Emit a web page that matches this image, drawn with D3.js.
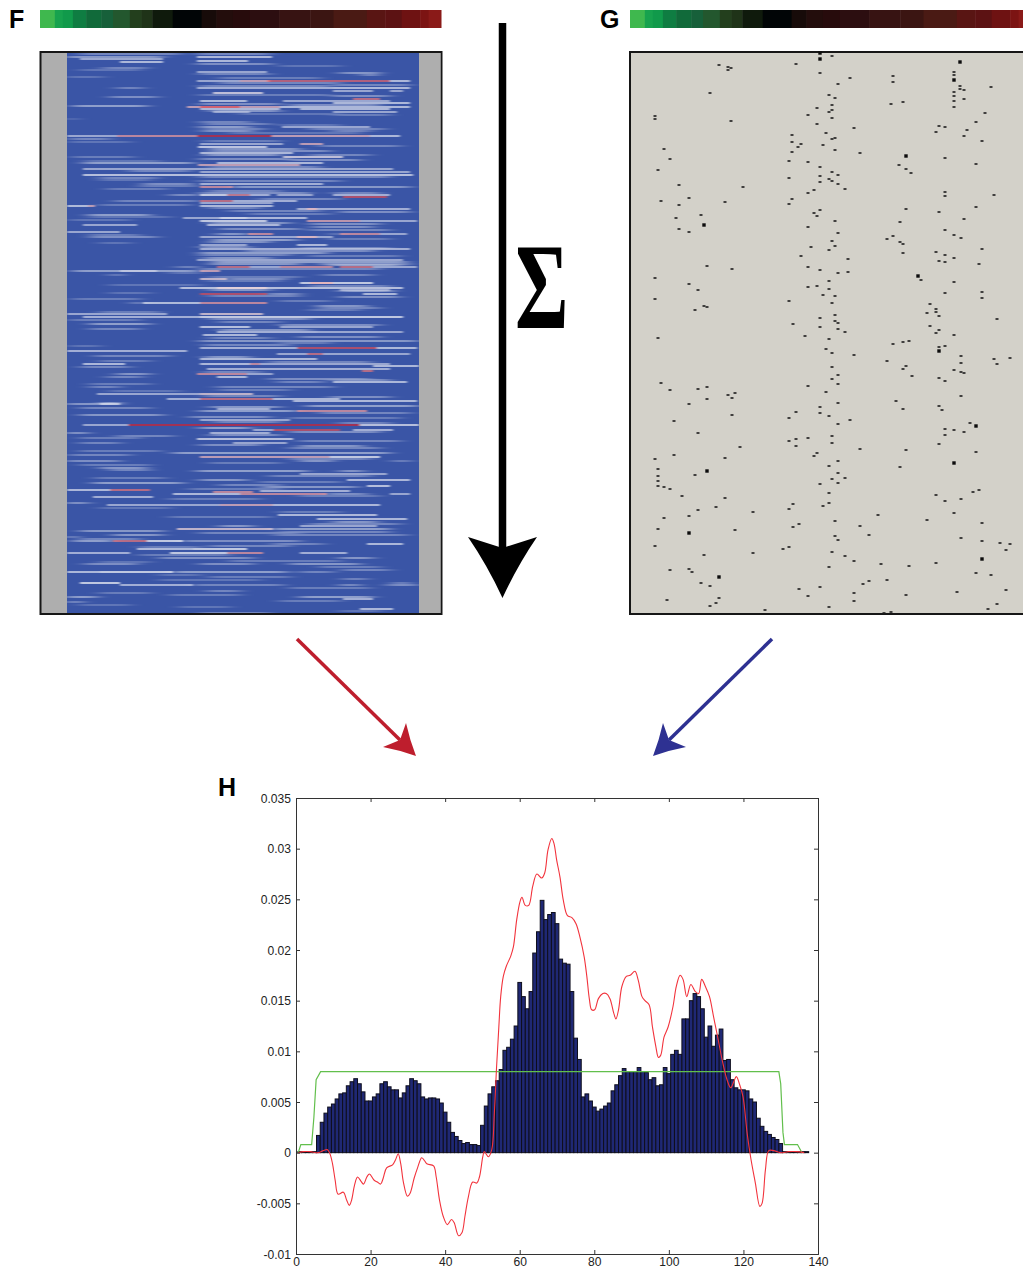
<!DOCTYPE html>
<html>
<head>
<meta charset="utf-8">
<script src="https://cdn.jsdelivr.net/npm/d3@7"></script>
<style>
    html, body { margin: 0; padding: 0; background: #fff; overflow: hidden; }
    .tick text { font-family: "Liberation Sans", sans-serif; font-size: 13px; fill: #222; }
    .tick line { stroke: #333; }
    .panel-label { font-family: "Liberation Sans", Arial, sans-serif; font-weight: bold; font-size: 25px; fill: #000; }
</style>
</head>
<body>
<svg id="fig" width="1023" height="1270"></svg>
<script>
// H: histogram of bins 1..137
var binIndex = d3.range(1, 138);
var binValues = [
    .0001,.0001,.0001,.0001,.0001,.0017,.0030,.0039,.0045,.0048,.0053,.0058,.0059,.0066,.0070,.0073,.0068,.0060,.0051,.0051,
    .0055,.0058,.0068,.0070,.0065,.0062,.0062,.0054,.0059,.0066,.0073,.0071,.0068,.0055,.0053,.0054,.0054,.0053,.0049,.0040,
    .0030,.0020,.0016,.0012,.0009,.0010,.0008,.0008,.0007,.0027,.0046,.0058,.0065,.0071,.0082,.0101,.0104,.0112,.0125,.0168,
    .0154,.0142,.0159,.0197,.0218,.0249,.0230,.0235,.0237,.0226,.0191,.0187,.0186,.0159,.0113,.0092,.0055,.0058,.0051,.0045,
    .0041,.0043,.0046,.0049,.0061,.0067,.0076,.0083,.0080,.0080,.0080,.0084,.0080,.0079,.0072,.0074,.0066,.0067,.0084,.0078,
    .0097,.0101,.0097,.0132,.0132,.0150,.0157,.0154,.0142,.0114,.0125,.0105,.0116,.0122,.0091,.0092,.0072,.0064,.0062,.0062,
    .0061,.0053,.0050,.0034,.0026,.0021,.0018,.0015,.0013,.0009,.0001,.0001,.0001,.0001,.0001,.0001,.0001
];

var redX = [0.6,2,3.8,6,7.3,8.4,9.1,9.8,10.5,11.3,12.7,13.6,14.3,14.9,15.7,16.5,17.4,18.1,19,19.7,20.9,21.8,22.7,23.4,24.3,25.9,26.7,27.4,28.1,28.8,29.9,30.6,31.7,32.6,33.7,34.3,35.1,36.9,37.6,38.5,39.5,40.6,41.7,42.4,43.6,44.5,45.3,46.2,47.4,48.5,49.2,50.1,50.5,51.6,52.5,53.2,53.8,54.4,54.9,55.6,56.4,57.6,58.3,59.2,60.1,60.6,61.5,62.4,63.5,64.6,65.9,66.7,67.6,68.6,69.2,69.9,70.8,71.7,72.8,74,75.1,76.2,77.3,78,78.7,79.3,80.1,81.1,82.3,83.2,84.2,85.2,85.8,86.5,87.4,88.6,89.6,90.9,91.8,92.8,93.6,94.7,95.6,96.5,97.2,97.8,98.7,99.8,101.1,102,103,103.8,104.8,105.9,107.1,108,108.8,109.8,110.9,112,113.1,114.5,115.6,116.6,117.4,118.1,119,119.9,121,122,123.2,124.4,125,125.9,126.8,128.1,129.9,132.1,134.3,136.3];
var redY = [0,.0001,.0001,0,.0002,.0003,-.0001,-.0011,-.0027,-.0041,-.0039,-.0047,-.0052,-.0047,-.0032,-.0024,-.0028,-.0031,-.0024,-.0021,-.0027,-.0029,-.0031,-.0025,-.0015,-.0012,-.0007,-.0001,-.0011,-.0029,-.0043,-.0040,-.0025,-.0015,-.0005,-.0007,-.0011,-.0013,-.0024,-.0047,-.0063,-.0071,-.0066,-.0069,-.0082,-.0079,-.0063,-.0044,-.0029,-.0030,-.0024,-.0004,.0001,-.0004,.0003,.0039,.0085,.0124,.0154,.0174,.0184,.0194,.0203,.0230,.0248,.0252,.0244,.0244,.0263,.0275,.0271,.0276,.0299,.0310,.0305,.0289,.0272,.0249,.0234,.0232,.0226,.0212,.0193,.0174,.0151,.0141,.0141,.0152,.0157,.0157,.0152,.0138,.0132,.0141,.0164,.0174,.0175,.0179,.0170,.0154,.0150,.0146,.0124,.0105,.0094,.0096,.0114,.0124,.0144,.0164,.0175,.0171,.0154,.0166,.0159,.0157,.0171,.0164,.0154,.0134,.0114,.0088,.0072,.0064,.0070,.0075,.0067,.0055,.0019,-.0006,-.0030,-.0053,-.0050,-.0017,.0002,.0002,0,.0001,.0001,0];

var greenX = [0.6,1.3,4.2,4.8,5.4,6.6,129.5,130,130.6,131,134.5,135.7];
var greenY = [0,.0008,.0008,.0035,.0072,.008,.008,.0068,.002,.0008,.0008,0];

var yTickValues = [.035,.03,.025,.02,.015,.01,.005,0,-.005,-.01];
var yTickLabels = ["0.035","0.03","0.025","0.02","0.015","0.01","0.005","0","-0.005","-0.01"];
var xTickValues = [0,20,40,60,80,100,120,140];

// colour key above F and G
var keyEdges = [0,.037,.057,.082,.115,.153,.182,.224,.253,.280,.331,.403,.440,.481,.523,.597,.674,.732,.815,.861,.902,.948,.969,1];
var keyColors = ["#3fb84e","#17a24e","#119a4b","#0f7d42","#116a3a","#17603a","#23572e","#233f1d","#1f3318","#0f1a0c","#010506","#170b09","#230d0c","#270b0c","#2c0e10","#371312","#3b1512","#4a1a14","#591513","#5c1213","#6e1212","#7c1413","#8a1a18"];

// F: expression streaks as [row, from, to, level]
var fStreaks = [
    [2,40,140,.3],[2,157,230,.3],[5,157,232,.6],[5,27,123,.4],[7,40,123,.5],[10,80,123,.6],[9,157,208,.6],[16,63,107,.3],
    [20,157,227,.5],[21,300,340,.4],[23,323,337,.4],[25,27,63,.2],[29,157,200,.5],[29,200,230,.8],[29,227,350,.92],[29,350,370,.6],
    [36,77,103,.3],[36,157,293,.55],[36,293,370,.6],[39,293,333,.5],[39,350,363,.5],[41,173,223,.72],[45,70,117,.35],[47,313,340,.9],
    [49,160,207,.6],[49,243,350,.5],[51,293,370,.6],[54,33,107,.45],[55,147,240,.8],[55,240,370,.6],[55,160,200,.95],[57,160,240,.6],
    [57,260,350,.6],[60,173,210,.5],[60,293,357,.5],[67,27,37,.2],[70,160,210,.3],[75,160,210,.45],[75,242,330,.5],[79,163,213,.4],
    [79,293,330,.3],[84,27,77,.5],[84,77,157,.85],[84,157,232,1],[84,232,330,.8],[84,330,360,.6],[87,30,70,.3],[92,160,243,.5],
    [92,260,283,.8],[95,158,227,.68],[101,160,253,.6],[105,33,93,.25],[105,243,303,.72],[111,43,153,.45],[111,177,283,.6],[113,158,260,.8],
    [117,43,353,.5],[120,160,370,.5],[123,43,373,.65],[126,60,117,.3],[132,103,153,.35],[132,160,283,.55],[135,160,193,.85],[135,193,370,.4],
    [137,67,127,.25],[143,130,158,.35],[143,160,187,.7],[143,187,210,.88],[143,210,230,.55],[143,237,273,.5],[143,293,350,.55],[145,303,347,.95],
    [149,75,158,.3],[149,160,193,.9],[149,193,257,.55],[151,160,233,.5],[154,27,48,.62],[154,48,55,.8],[154,160,233,.6],[157,257,370,.55],
    [157,267,277,.8],[160,300,370,.35],[163,48,110,.45],[166,143,207,.5],[166,180,267,.6],[169,160,227,.7],[169,267,320,.82],[169,320,377,.5],
    [173,43,97,.5],[173,167,240,.6],[175,273,333,.35],[180,27,80,.5],[182,177,207,.4],[182,208,233,.85],[182,293,300,.4],[182,300,340,.85],
    [182,340,367,.5],[185,50,117,.35],[185,160,293,.5],[185,257,277,.8],[188,173,257,.45],[193,160,207,.5],[193,257,287,.6],[197,160,370,.55],
    [199,207,333,.35],[201,160,287,.45],[208,157,363,.5],[210,173,367,.45],[215,137,158,.3],[215,177,210,.9],[215,210,240,.5],[215,240,293,.85],
    [215,300,333,.9],[215,333,377,.5],[219,33,158,.45],[219,80,117,.55],[219,160,180,.8],[223,70,83,.3],[223,283,333,.3],[227,160,187,.75],
    [227,187,247,.35],[231,260,333,.7],[231,270,293,.82],[236,140,363,.65],[236,177,227,.75],[239,300,353,.45],[242,160,227,.95],[242,227,260,.35],
    [242,323,357,.6],[247,33,100,.25],[251,93,103,.4],[251,103,160,.62],[251,160,227,.85],[254,277,327,.4],[262,27,127,.5],[262,160,223,.75],
    [265,43,160,.55],[265,160,363,.7],[272,50,110,.45],[275,160,210,.65],[275,240,333,.5],[280,177,277,.55],[280,277,363,.5],[283,163,217,.6],
    [289,160,377,.4],[296,160,257,.55],[296,257,337,.95],[296,337,377,.6],[299,27,147,.55],[302,237,267,.5],[302,267,283,.9],[302,283,370,.5],
    [307,160,277,.6],[312,43,85,.6],[312,160,210,.6],[312,210,220,.85],[312,220,350,.5],[314,333,379,.6],[317,167,350,.55],[319,322,333,.9],
    [322,157,207,.85],[322,207,233,.5],[322,77,110,.4],[325,177,207,.6],[325,67,102,.3],[330,293,367,.6],[330,238,283,.3],[335,50,80,.3],
    [335,177,293,.3],[342,57,160,.5],[342,160,213,.75],[347,127,160,.55],[347,160,233,.9],[347,233,300,.6],[349,253,377,.6],[351,60,80,.45],
    [352,27,80,.4],[352,60,80,.6],[354,267,377,.45],[357,177,230,.55],[359,160,257,.45],[359,257,327,.85],[363,40,123,.4],[368,160,250,.5],
    [373,43,88,.5],[373,88,320,1],[373,320,379,.65],[376,160,210,.45],[378,233,300,.95],[378,213,233,.5],[378,313,353,.55],[381,170,230,.55],
    [381,27,48,.4],[384,77,133,.3],[387,157,253,.65],[391,193,247,.5],[391,40,80,.3],[394,260,323,.4],[401,133,350,.45],[405,160,290,.8],
    [405,290,340,.7],[409,27,80,.35],[409,260,293,.4],[409,353,370,.3],[416,60,107,.4],[419,157,267,.45],[419,300,323,.4],[422,260,347,.5],
    [428,160,207,.4],[428,307,370,.6],[431,53,143,.45],[434,327,350,.65],[435,223,317,.4],[438,27,70,.6],[438,70,110,.9],[439,220,310,.55],
    [440,173,213,.85],[442,133,200,.6],[442,200,287,.85],[442,287,327,.35],[442,350,370,.5],[445,53,113,.55],[451,27,48,.4],[453,67,180,.5],
    [453,180,233,.8],[453,233,340,.6],[463,238,337,.6],[467,277,367,.6],[470,293,337,.4],[474,180,213,.4],[474,260,337,.5],[477,137,233,.75],
    [477,233,350,.45],[479,40,123,.4],[483,73,123,.4],[483,235,367,.3],[485,27,37,.4],[489,33,73,.45],[489,73,107,.9],[489,107,143,.7],
    [489,143,260,.35],[492,233,283,.3],[492,327,363,.6],[497,97,153,.6],[497,153,207,.7],[501,27,90,.55],[501,130,187,.7],[501,187,223,.85],
    [501,260,307,.55],[506,120,213,.35],[506,300,333,.4],[512,45,97,.35],[512,160,213,.35],[512,250,320,.4],[520,27,60,.6],[520,60,133,.7],
    [520,133,247,.45],[520,260,293,.3],[518,303,350,.3],[527,303,327,.3],[531,40,80,.7],[531,353,370,.3],[533,80,153,.55],[533,153,243,.3],
    [533,300,320,.35],[533,347,377,.35],[539,167,200,.3],[545,27,57,.45],[545,260,333,.45],[547,303,333,.55],[550,27,43,.35],[557,320,353,.6],
    [561,160,230,.3]
];
// the paler rows between them
var fFaint = [
    [12,157,232,.35],[14,240,300,.2],[18,40,100,.2],[22,160,230,.3],[26,180,280,.25],[31,180,300,.3],[33,293,370,.3],[34,160,290,.3],[43,160,290,.25],
    [44,293,350,.35],[52,160,240,.35],[53,250,340,.35],[59,170,240,.4],[62,200,300,.2],[63,293,350,.25],[72,165,230,.3],[73,240,300,.2],[77,165,225,.3],
    [77,270,345,.3],[81,190,320,.2],[89,165,240,.25],[90,30,90,.2],[94,280,360,.3],[97,170,260,.4],[99,170,290,.35],[103,165,240,.4],[103,270,330,.3],
    [107,160,250,.35],[108,250,320,.35],[109,45,120,.2],[115,170,280,.3],[119,90,150,.3],[125,160,350,.3],[128,60,110,.2],[129,160,300,.3],[134,100,157,.25],
    [139,170,240,.3],[141,160,270,.35],[141,293,340,.3],[147,220,300,.3],[153,60,150,.25],[156,170,220,.3],[159,190,280,.3],[162,210,290,.25],[165,50,130,.2],
    [168,30,90,.2],[171,170,250,.4],[172,270,340,.35],[177,180,260,.35],[178,270,350,.3],[183,50,100,.25],[187,290,350,.25],[190,170,230,.4],[191,60,90,.2],
    [195,160,210,.35],[196,260,350,.3],[203,160,250,.3],[204,270,360,.25],[206,165,230,.4],[212,170,260,.4],[212,280,370,.35],[213,290,360,.45],[217,160,340,.3],
    [221,130,160,.2],[225,170,260,.25],[229,170,240,.25],[233,70,160,.2],[234,270,350,.3],[238,170,230,.4],[238,300,350,.5],[241,70,110,.2],[244,170,260,.3],
    [245,300,360,.35],[249,240,290,.25],[256,280,340,.3],[258,270,320,.25],[260,60,120,.25],[267,170,270,.35],[268,30,100,.25],[270,180,240,.3],[273,240,340,.35],
    [277,50,100,.3],[278,180,270,.4],[285,260,340,.35],[286,170,230,.3],[291,240,290,.25],[293,165,250,.3],[294,30,60,.2],[304,55,130,.3],[305,165,210,.4],
    [309,60,110,.25],[310,230,330,.3],[315,40,90,.3],[320,165,220,.3],[327,230,330,.35],[328,290,350,.35],[332,50,110,.25],[338,180,250,.25],[339,70,140,.2],
    [344,165,240,.3],[345,290,350,.35],[355,170,240,.4],[356,40,110,.3],[361,280,370,.3],[365,150,230,.35],[366,250,360,.25],[370,175,240,.3],[371,300,350,.3],
    [380,250,340,.35],[383,170,240,.35],[386,40,100,.25],[389,260,360,.3],[393,160,220,.35],[396,250,340,.3],[399,40,120,.25],[403,30,90,.3],[407,250,330,.3],
    [411,170,240,.25],[413,40,110,.25],[418,70,110,.3],[424,230,330,.3],[426,55,125,.25],[430,220,300,.25],[433,180,240,.3],[437,150,240,.25],[444,260,340,.25],
    [447,130,220,.25],[456,60,130,.2],[460,240,300,.25],[465,130,230,.25],[472,270,360,.3],[480,240,350,.3],[481,160,260,.3],[487,40,100,.3],[494,170,250,.3],
    [495,100,160,.25],[503,100,190,.25],[509,190,300,.25],[510,60,110,.2],[515,280,340,.25],[523,120,160,.2],[525,170,250,.25],[528,120,220,.2],[536,250,330,.25],
    [541,60,110,.25],[543,130,200,.25],[549,240,300,.25],[553,40,90,.2],[555,140,190,.2],[559,300,340,.2]
];

// G: binding events as [position, row]
var gDots = [
    [202,4],[166,12],[89,13],[98,15],[101,16],[98,18],[190,21],[220,26],[263,24],[263,30],[208,32],[324,20],[324,23],[330,34],[330,37],[334,38],
    [361,35],[324,40],[324,44],[324,49],[334,47],[324,55],[80,41],[199,43],[205,46],[261,52],[273,50],[202,53],[187,56],[202,58],[199,60],[178,63],
    [25,64],[25,67],[101,69],[202,66],[187,72],[355,61],[346,70],[309,74],[315,75],[306,80],[337,78],[224,76],[196,81],[334,84],[162,83],[205,86],
    [202,87],[352,89],[162,90],[171,92],[168,95],[193,93],[34,97],[205,98],[162,100],[230,101],[315,106],[40,107],[159,109],[178,110],[346,112],
    [269,113],[190,115],[276,117],[28,118],[202,120],[281,121],[208,123],[190,124],[159,126],[199,127],[202,129],[190,130],[208,132],[49,133],[113,135],
    [215,137],[184,138],[178,141],[315,140],[315,144],[364,143],[59,146],[162,147],
    [31,149],[95,150],[159,152],[49,153],[190,158],[184,161],[187,164],[71,163],[46,166],[49,177],[59,180],[178,175],[205,169],[208,181],[202,189],
    [205,194],[181,195],[199,198],[171,204],[218,207],[276,157],[309,160],[346,155],[334,167],[270,170],[315,178],[324,183],[331,186],[263,184],[257,187],
    [270,190],[273,192],[352,197],[273,201],[306,200],[315,203],[324,206],[309,209],[315,210],[349,212],[77,214],[102,217],[178,215],[190,218],[208,221],
    [218,220],[25,226],[59,232],[68,238],[25,247],[74,254],[77,255],[65,258],[291,228],[324,230],[199,229],[187,234],[178,235],[199,237],[193,243],
    [205,244],[202,251],[159,249],[315,241],[352,240],[352,246],[300,252],[306,257],[306,260],[297,261],[309,264],[367,267],[205,263],[190,266],[205,269],
    [208,271],[163,272],[190,275],[208,277],[215,280],[300,274],[309,278],[306,281],[324,283],[175,284],[28,286],[199,287],
    [263,292],[273,290],[279,289],[309,295],[315,294],[196,297],[202,301],[224,303],[331,304],[331,311],[364,307],[380,306],[367,312],[257,309],[276,314],
    [273,317],[282,324],[202,315],[208,323],[324,318],[331,320],[334,321],[309,326],[315,329],[202,327],[208,332],[178,334],[31,331],[40,338],[68,337],
    [77,335],[105,341],[98,343],[102,346],[77,347],[196,340],[331,344],[59,352],[208,351],[266,349],[273,357],[309,354],[312,358],[190,355],[166,360],
    [190,361],[159,366],[199,364],[102,363],[44,369],[208,372],[220,368],[340,371],[315,377],[324,378],[334,380],[315,383],[68,381],[202,384],[178,386],
    [166,387],[159,389],[202,391],[166,394],[110,395],[309,392],[230,397],[276,398],[346,400],[187,401],[184,404],[44,403],[25,407],[95,406],[208,409],
    [199,414],[270,415],[28,417],[65,423],[28,424],[208,421],[215,426],[202,427],
    [28,429],[28,434],[34,435],[40,437],[208,431],[190,432],[52,444],[95,446],[199,441],[306,443],[315,449],[331,447],[343,440],[349,438],[199,451],
    [193,454],[163,452],[159,457],[86,455],[68,458],[123,460],[248,463],[324,461],[59,464],[34,466],[205,469],[297,468],[352,471],[230,474],[169,472],
    [163,475],[28,477],[105,478],[239,483],[205,484],[208,488],[331,486],[352,489],[370,491],[380,492],[25,494],[159,495],[153,497],[376,498],[202,500],
    [74,503],[123,501],[215,504],[224,509],[251,512],[279,514],[306,511],[199,515],[40,518],[59,517],[62,520],[346,521],[361,523],[257,528],[239,529],
    [233,532],[71,531],[80,534],[169,537],[190,535],[327,540],[376,538],[224,541],[276,543],[178,544],[37,548],[89,546],[86,551],[80,554],[224,549],
    [367,552],[358,557],[199,555],[135,558],[261,560],[254,561]
];
var gBigDots = [[190,1],[190,7],[330,10],[324,28],[276,104],[74,173],[288,224],[309,299],[346,374],[324,411],[77,419],[59,481],[352,507],[89,525]];

var svg = d3.select("#fig");
var defs = svg.append("defs");

function soft_filter(id, dev) {
    defs.append("filter").attr("id", id)
        .attr("filterUnits", "userSpaceOnUse").attr("x", 40).attr("y", 52).attr("width", 401).attr("height", 562)
        .append("feGaussianBlur").attr("stdDeviation", dev);
}
soft_filter("soft", "1.5 0.4");
soft_filter("softer", "7 0.45");
defs.append("clipPath").attr("id", "blue-clip").append("rect")
    .attr("x", 67).attr("y", 53).attr("width", 352).attr("height", 560);

var panelW = 401, panelH = 562;

function draw_key(left) {
    var kx = d3.scaleLinear().domain([0, 1]).range([left, left + panelW]);
    svg.append("g").selectAll("rect").data(keyColors).enter().append("rect")
        .attr("x", (d, i) => kx(keyEdges[i]))
        .attr("y", 10)
        .attr("width", (d, i) => kx(keyEdges[i + 1]) - kx(keyEdges[i]) + 0.5)
        .attr("height", 18)
        .attr("fill", d => d);
}

// panel F
var fx = d3.scaleLinear().domain([0, panelW]).range([40, 40 + panelW]);
var fy = d3.scaleLinear().domain([0, panelH]).range([52, 52 + panelH]);
var level = d3.scaleLinear()
    .domain([0, .7, .87, 1])
    .range(["#3a55a6", "#f8f8fa", "#ef8f8f", "#cc2236"]);

function draw_streaks(data, filter) {
    svg.append("g").attr("clip-path", "url(#blue-clip)")
        .append("g").attr("filter", "url(#" + filter + ")")
        .selectAll("rect").data(data).enter().append("rect")
        .attr("x", d => fx(d[1]))
        .attr("y", d => fy(d[0]) - 0.7)
        .attr("width", d => fx(d[2]) - fx(d[1]))
        .attr("height", 1.4)
        .attr("fill", d => level(d[3]));
}

draw_key(40);
svg.append("rect").attr("x", 41).attr("y", 53).attr("width", 399).attr("height", 560).attr("fill", "#aeaeae");
svg.append("rect").attr("x", fx(27)).attr("y", 53).attr("width", fx(379) - fx(27)).attr("height", 560).attr("fill", "#3a55a6");

var allStreaks = fFaint.concat(fStreaks).sort((a, b) => a[3] - b[3]);
draw_streaks(allStreaks.filter(d => d[3] < .5), "softer");
draw_streaks(allStreaks.filter(d => d[3] >= .5), "soft");

svg.append("rect").attr("x", 40.5).attr("y", 52).attr("width", panelW).attr("height", panelH)
    .attr("fill", "none").attr("stroke", "#161616").attr("stroke-width", 2);

// panel G, runs off the right of the page
var gx = d3.scaleLinear().domain([0, panelW]).range([630, 630 + panelW]);
draw_key(630);
svg.append("rect").attr("x", 630).attr("y", 52).attr("width", panelW).attr("height", panelH)
    .attr("fill", "#d3d1c9").attr("stroke", "#161616").attr("stroke-width", 2);
svg.append("g").selectAll("rect").data(gDots).enter().append("rect")
    .attr("x", d => gx(d[0]) - 1.5)
    .attr("y", d => fy(d[1]) - 0.8)
    .attr("width", 3).attr("height", 1.6).attr("fill", "#1c1c1c");
svg.append("g").selectAll("rect").data(gBigDots).enter().append("rect")
    .attr("x", d => gx(d[0]) - 1.7)
    .attr("y", d => fy(d[1]) - 1.7)
    .attr("width", 3.4).attr("height", 3.4).attr("fill", "#0c0c0c");

// panel H
var x = d3.scaleLinear().domain([0, 140]).range([296, 818]);
var y = d3.scaleLinear().domain([-.01, .035]).range([1254, 798]);

svg.append("g").selectAll("rect").data(binIndex).enter().append("rect")
    .attr("x", d => x(d - .5))
    .attr("width", x(1) - x(0))
    .attr("y", (d, i) => y(binValues[i]))
    .attr("height", (d, i) => y(0) - y(binValues[i]))
    .attr("fill", "#1f2874").attr("stroke", "#0e0e1c").attr("stroke-width", 1);

var curve = d3.line().curve(d3.curveCatmullRom.alpha(.5)).x(d => x(d[0])).y(d => y(d[1]));
var greenLine = d3.line().x(d => x(d[0])).y(d => y(d[1]));
svg.append("path").datum(d3.zip(greenX, greenY)).attr("d", greenLine)
    .attr("fill", "none").attr("stroke", "#62bf4c").attr("stroke-width", 1.2);
svg.append("path").datum(d3.zip(redX, redY)).attr("d", curve)
    .attr("fill", "none").attr("stroke", "#f2333c").attr("stroke-width", 1.1);

// the tick labels are narrow in the original
function narrow(g) {
    g.selectAll(".tick text").each(function() {
        var w = this.getComputedTextLength();
        d3.select(this).attr("textLength", w * .93).attr("lengthAdjust", "spacingAndGlyphs");
    });
}

svg.append("g").attr("transform", "translate(0,1254)")
    .call(d3.axisBottom(x).tickValues(xTickValues).tickSize(-4).tickPadding(3))
    .call(g => g.select(".domain").attr("stroke", "#333"))
    .call(narrow);
svg.append("g").attr("transform", "translate(296,0)")
    .call(d3.axisLeft(y).tickValues(yTickValues).tickFormat((d, i) => yTickLabels[i]).tickSize(-4).tickPadding(5))
    .call(g => g.select(".domain").attr("stroke", "#333"))
    .call(narrow);
svg.append("g").attr("transform", "translate(0,798)")
    .call(d3.axisTop(x).tickValues(xTickValues).tickSize(-4).tickFormat(""))
    .call(g => g.select(".domain").attr("stroke", "#333"));
svg.append("g").attr("transform", "translate(818,0)")
    .call(d3.axisRight(y).tickValues(yTickValues).tickSize(-4).tickFormat(""))
    .call(g => g.select(".domain").attr("stroke", "#333"));

// arrows between the panels
function arrow(x0, y0, notch, wingA, tip, wingB, color, width) {
    svg.append("line").attr("x1", x0).attr("y1", y0).attr("x2", notch[0]).attr("y2", notch[1])
        .attr("stroke", color).attr("stroke-width", width);
    var p = d3.path();
    p.moveTo(notch[0], notch[1]);
    p.lineTo(wingA[0], wingA[1]);
    p.quadraticCurveTo((wingA[0] + tip[0]) / 2 + (notch[0] - (wingA[0] + tip[0]) / 2) * .12,
        (wingA[1] + tip[1]) / 2 + (notch[1] - (wingA[1] + tip[1]) / 2) * .12, tip[0], tip[1]);
    p.quadraticCurveTo((wingB[0] + tip[0]) / 2 + (notch[0] - (wingB[0] + tip[0]) / 2) * .12,
        (wingB[1] + tip[1]) / 2 + (notch[1] - (wingB[1] + tip[1]) / 2) * .12, wingB[0], wingB[1]);
    p.closePath();
    svg.append("path").attr("d", p.toString()).attr("fill", color);
}
arrow(502.5, 23, [502.5, 548], [468, 537], [502.5, 598], [537, 537], "#000", 7.5);
arrow(297, 639, [400, 740], [406, 723], [416, 756], [383, 747], "#be1e2d", 3.5);
arrow(772, 639, [669, 740], [663, 723], [653, 756], [686, 747], "#2e3192", 3.5);

svg.append("text").attr("x", 0).attr("y", 0)
    .attr("transform", "translate(515,328) scale(0.67,1)")
    .attr("font-family", "Liberation Serif").attr("font-weight", "bold").attr("font-size", 122).text("Σ");

svg.append("text").attr("class", "panel-label").attr("x", 9).attr("y", 28).text("F");
svg.append("text").attr("class", "panel-label").attr("x", 600).attr("y", 28).text("G");
svg.append("text").attr("class", "panel-label").attr("x", 218).attr("y", 796).text("H");
</script>
</body>
</html>
